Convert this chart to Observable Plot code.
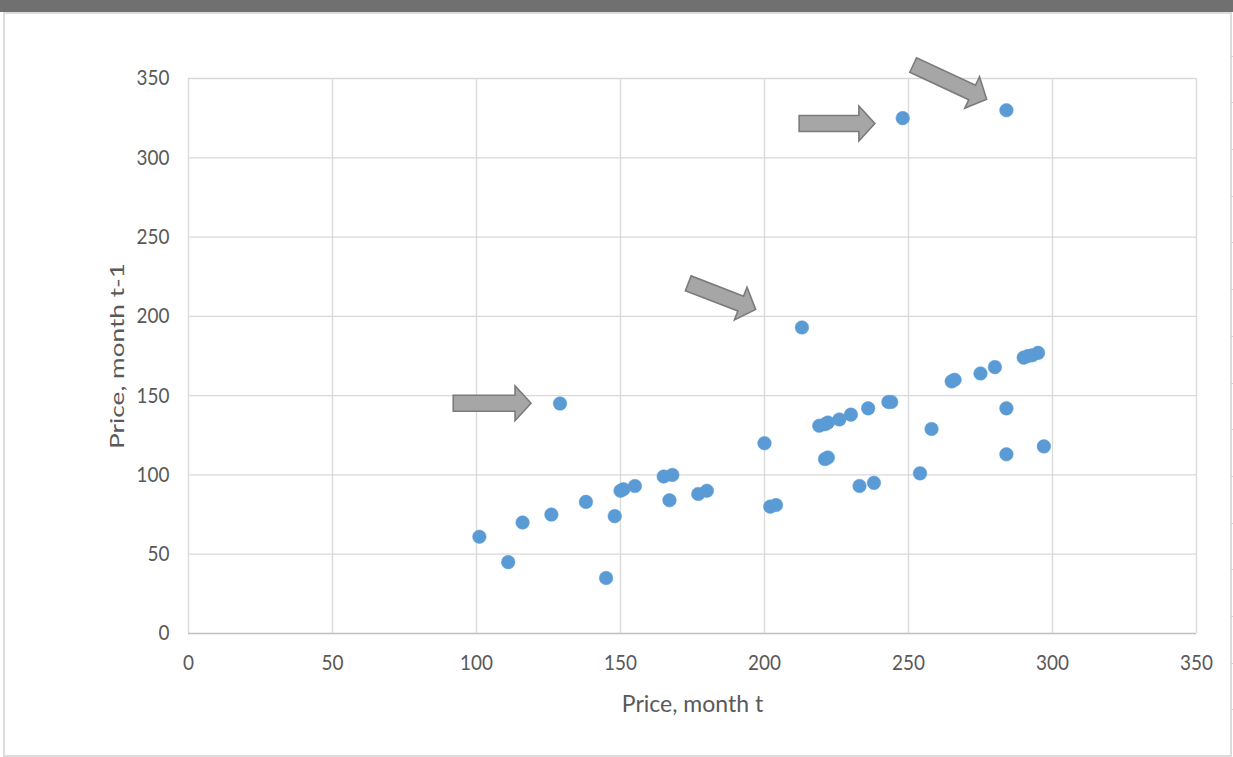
<!DOCTYPE html>
<html>
<head>
<meta charset="utf-8">
<script src="https://cdn.jsdelivr.net/npm/d3@7"></script>
<script src="https://cdn.jsdelivr.net/npm/@observablehq/plot@0.6"></script>
<style>
  html, body { margin: 0; padding: 0; background: #fff; }
  #frame { position: relative; width: 1233px; height: 757px; overflow: hidden; background: #fff; }
  #chart { position: absolute; left: 0; top: 0; }
  #topbar { position: absolute; left: 0; top: 0; width: 1233px; height: 12px; background: #6f706f; }
  #box { position: absolute; left: 3px; top: 12px; width: 1225px; height: 741px;
         border: 2px solid #dcdcdc; pointer-events: none; }
  #ruler { position: absolute; left: 1231px; top: 10px; width: 3px; height: 740px; pointer-events: none;
           background: repeating-linear-gradient(to bottom, transparent 0, transparent 45.7px,
                       #cfcfcf 45.7px, #cfcfcf 46.7px); }
</style>
</head>
<body>
<div id="frame">
  <div id="chart"></div>
  <div id="topbar"></div>
  <div id="box"></div>
  <div id="ruler"></div>
</div>
<script>
// Price this month vs. price the month before
const priceT = [
  101, 111, 116, 126, 138, 145, 148, 150, 151, 155,
  165, 168, 167, 177, 180, 200, 202, 204, 129, 213,
  219, 221, 222, 226, 230, 236, 243, 244, 221, 222,
  233, 238, 254, 258, 265, 266, 275, 280, 284, 284,
  290, 291.5, 293, 295, 297, 248, 284
];
const pricePrev = [
  61, 45, 70, 75, 83, 35, 74, 90, 91, 93,
  99, 100, 84, 88, 90, 120, 80, 81, 145, 193,
  131, 132, 133, 135, 138, 142, 146, 146, 110, 111,
  93, 95, 101, 129, 159, 160, 164, 168, 142, 113,
  174, 175, 175.5, 177, 118, 325, 330
];

// Block arrows pointing at the outlying months (tail -> tip, in price units)
const arrowTailX = [92.1, 212.2, 251.8, 173.7];
const arrowTailY = [144.9, 321.3, 358.2, 220.5];
const arrowTipX  = [119.1, 238.5, 277.3, 197.1];
const arrowTipY  = [144.9, 321.3, 336.6, 204.1];

const axisTicks = [0, 50, 100, 150, 200, 250, 300, 350];
const xTitle = "Price, month t";
const yTitle = "Price, month t-1";

const points = priceT.map((x, i) => ({x, y: pricePrev[i]}));
const arrows = arrowTailX.map((x, i) => ({
  x1: x, y1: arrowTailY[i], x2: arrowTipX[i], y2: arrowTipY[i]
}));

const FONT = "Lato, 'Open Sans', sans-serif";
const GRID = "#d9d9d9";
const TEXT = "#595959";

// Draws the block arrows through the plot's x/y scales
function blockArrows(index, scales) {
  const g = d3.create("svg:g");
  const hw = 8, hh = 17.5, hl = 16;
  for (const a of arrows) {
    const tx = scales.x(a.x1), ty = scales.y(a.y1);
    const px = scales.x(a.x2), py = scales.y(a.y2);
    const L = Math.hypot(px - tx, py - ty);
    const ux = (px - tx) / L, uy = (py - ty) / L;
    const nx = -uy, ny = ux;
    const bx = px - ux * hl, by = py - uy * hl;
    const pts = [
      [tx + nx * hw, ty + ny * hw],
      [bx + nx * hw, by + ny * hw],
      [bx + nx * hh, by + ny * hh],
      [px, py],
      [bx - nx * hh, by - ny * hh],
      [bx - nx * hw, by - ny * hw],
      [tx - nx * hw, ty - ny * hw]
    ];
    g.append("polygon")
      .attr("points", pts.map(p => p.join(",")).join(" "))
      .attr("fill", "#a6a6a6")
      .attr("stroke", "#7b7b7b")
      .attr("stroke-width", 1.6)
      .attr("stroke-linejoin", "miter");
  }
  return g.node();
}

const chart = Plot.plot({
  width: 1233,
  height: 757,
  marginTop: 78,
  marginBottom: 124,
  marginLeft: 188,
  marginRight: 37,
  style: {fontFamily: FONT, background: "transparent", overflow: "visible"},
  x: {domain: [0, 350], label: null},
  y: {domain: [0, 350], label: null},
  marks: [
    Plot.ruleX(axisTicks, {x: d => d, stroke: GRID, strokeWidth: 1.3}),
    Plot.ruleY(axisTicks.filter(d => d > 0), {y: d => d, stroke: GRID, strokeWidth: 1.3}),
    Plot.ruleY([0], {stroke: "#bfbfbf", strokeWidth: 1.5}),
    Plot.axisX(axisTicks, {tickSize: 0, tickPadding: 21, fontSize: 21.5, fill: TEXT, label: null}),
    Plot.axisY(axisTicks, {tickSize: 0, tickPadding: 19, fontSize: 21.5, fill: TEXT, label: null}),
    Plot.text([xTitle], {frameAnchor: "bottom", dy: 78, fontSize: 23, fill: TEXT}),
    Plot.text([yTitle], {frameAnchor: "left", dx: -71, rotate: -90, textAnchor: "middle",
                         fontSize: 20, fill: TEXT}),
    Plot.dot(points, {x: "x", y: "y", r: 6.8, fill: "#5b9bd5", stroke: "#5b9bd5", strokeWidth: 0.5}),
    blockArrows
  ]
});

document.getElementById("chart").appendChild(chart);

// Narrow the tick numerals and stretch the rotated title along its length
chart.querySelectorAll("text").forEach(t => {
  const s = t.textContent;
  if (/^\d+$/.test(s)) {
    t.setAttribute("textLength", (t.getComputedTextLength() * 0.88).toFixed(1));
    t.setAttribute("lengthAdjust", "spacingAndGlyphs");
  } else if (s === yTitle) {
    t.setAttribute("textLength", "186");
    t.setAttribute("lengthAdjust", "spacingAndGlyphs");
  }
});
</script>
</body>
</html>
